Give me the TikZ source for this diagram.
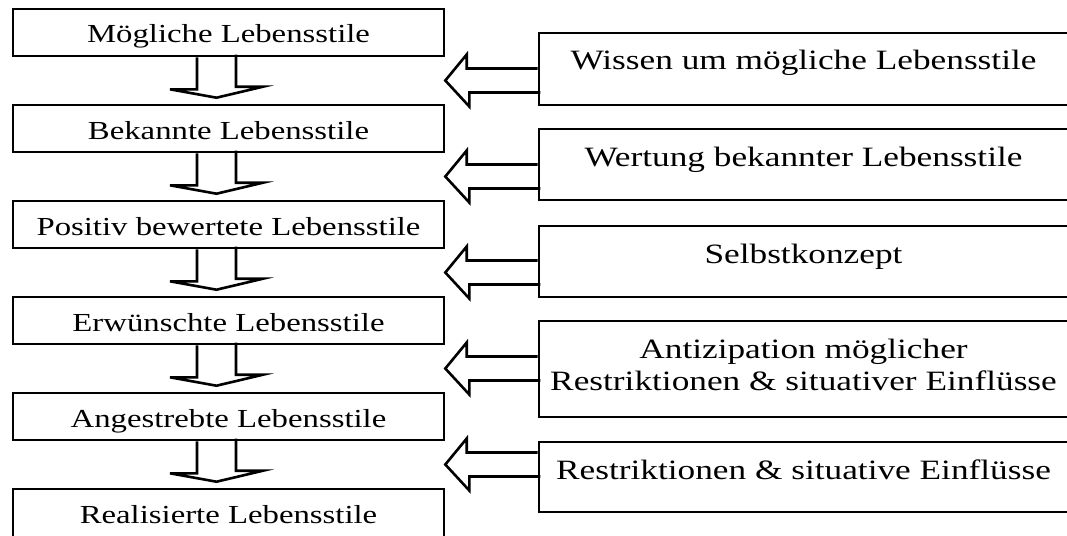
\documentclass[tikz,border=0pt]{standalone}
\usepackage{fontspec}
\setmainfont{Liberation Serif}[FakeStretch=1.26]
\usetikzlibrary{calc}
\begin{document}
\begin{tikzpicture}[x=1pt,y=-1pt,
  lbox/.style={draw,line width=2.6pt,minimum width=431pt,inner xsep=0pt,inner ysep=0pt,
    text height=34pt,text depth=13pt,font=\fontsize{26}{31}\selectfont},
  rbox/.style={draw,line width=2.6pt,minimum width=529pt,inner xsep=0pt,inner ysep=0pt,
    text height=37pt,font=\fontsize{28}{32}\selectfont},
  blk/.style={line width=2.6pt,line join=miter}]
\useasboundingbox (0,0) rectangle (1067,535);
\clip (0,0) rectangle (1067,535);

% left column
\node[lbox] (L1) at (228.5,32.5) {Mögliche Lebensstile};
\node[lbox] (L2) at (228.5,128.5) {Bekannte Lebensstile};
\node[lbox] (L3) at (228.5,224.5) {Positiv bewertete Lebensstile};
\node[lbox] (L4) at (228.5,320.5) {Erwünschte Lebensstile};
\node[lbox] (L5) at (228.5,416.5) {Angestrebte Lebensstile};
\node[lbox,text depth=18pt] (L6) at (228.5,515) {Realisierte Lebensstile};

% right column
\node[rbox,text depth=35pt] (R1) at (803.5,69) {Wissen um mögliche Lebensstile};
\node[rbox,text depth=34pt] (R2) at (803.5,164.5) {Wertung bekannter Lebensstile};
\node[rbox,text depth=34pt] (R3) at (803.5,261.5) {Selbstkonzept};
\node[rbox,text depth=59pt] (R4) at (803.5,369) {\begin{tabular}[t]{@{}c@{}}Antizipation möglicher\\Restriktionen \& situativer Einflüsse\end{tabular}};
\node[rbox,text depth=33pt] (R5) at (803.5,477) {Restriktionen \& situative Einflüsse};

% hollow down arrows
\foreach \a/\b in {L1/L2,L2/L3,L3/L4,L4/L5,L5/L6}{
  \draw[blk] ($(\a.south)+(-31.5,0)$) -- ++(0,32) -- ++(-27,0)
    -- ($(\b.north)+(-12,-6)$) -- ++(46.5,-11) -- ++(-27,0) -- ++(0,-32);
}

% hollow left arrows
\foreach \a/\b/\r/\i in {L1/L2/R1/1,L2/L3/R2/2,L3/L4/R3/3,L4/L5/R4/4,L5/L6/R5/5}{
  \coordinate (g\i) at ($(\a.south)!0.5!(\b.north)$);
  \draw[blk] ($(\r.west |- g\i)+(0,-12)$) -- ++(-71,0) -- ++(0,-14)
    -- (\a.east |- g\i) -- ++(24,26) -- ++(0,-14) -- ++(71,0);
}
\end{tikzpicture}
\end{document}
